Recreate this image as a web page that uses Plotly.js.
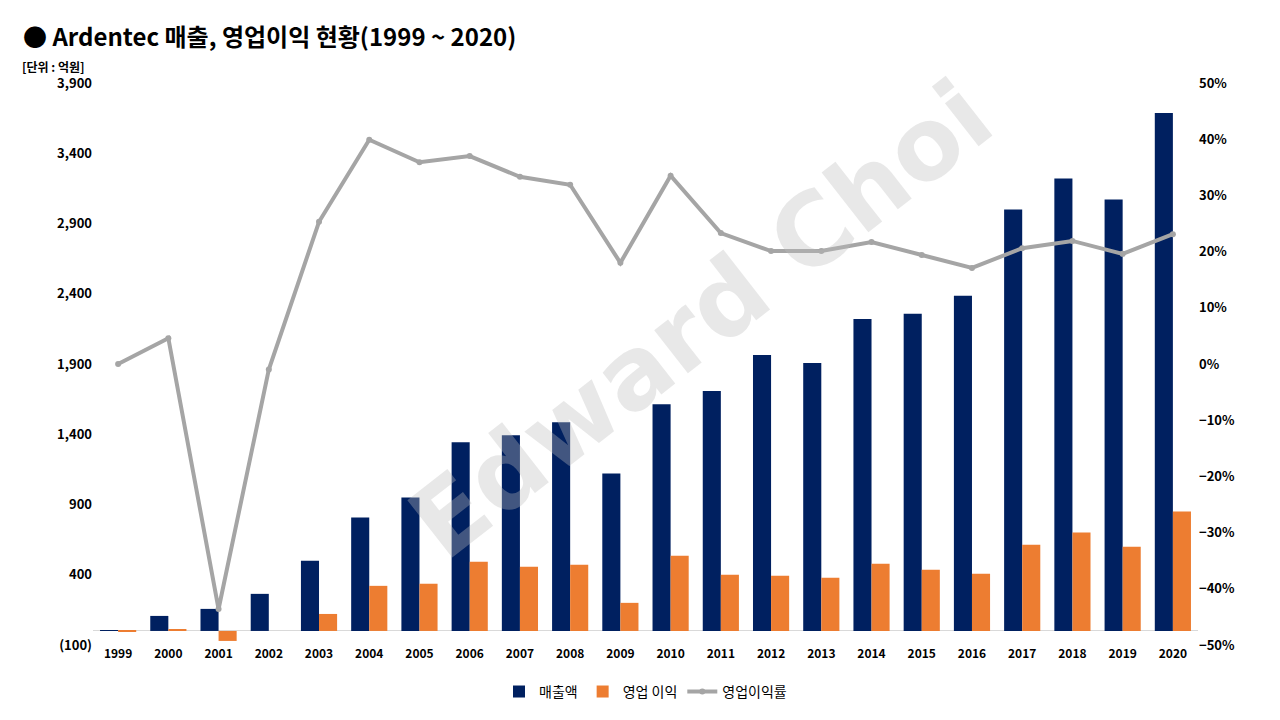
<!DOCTYPE html>
<html>
<head>
<meta charset="utf-8">
<script src="https://cdn.plot.ly/plotly-3.0.1.min.js"></script>
<style>body{margin:0;background:#fff}#chart{width:1280px;height:720px}</style>
</head>
<body>
<div id="chart"></div>
<script>
var years = ['1999','2000','2001','2002','2003','2004','2005','2006','2007','2008','2009','2010','2011','2012','2013','2014','2015','2016','2017','2018','2019','2020'];
var revenue = [5, 107, 157, 264, 500, 807, 950, 1343, 1393, 1486, 1121, 1614, 1707, 1964, 1907, 2221, 2257, 2386, 3000, 3221, 3071, 3686];
var opProfit = [-5, 7, -71, 0, 121, 321, 336, 493, 457, 471, 200, 536, 400, 393, 379, 479, 436, 407, 614, 700, 600, 850];
var opMargin = [0, 0.046, -0.436, -0.01, 0.253, 0.399, 0.359, 0.37, 0.333, 0.319, 0.18, 0.335, 0.233, 0.201, 0.201, 0.217, 0.194, 0.171, 0.206, 0.219, 0.196, 0.231];
var leftTicks = [-100, 400, 900, 1400, 1900, 2400, 2900, 3400, 3900];
var leftLabels = ['(100)', '400', '900', '1,400', '1,900', '2,400', '2,900', '3,400', '3,900'];

var font = {family: 'Noto Sans CJK KR, Noto Sans, sans-serif', color: '#000'};

var data = [
  {type: 'bar', x: years, y: revenue, name: '매출액', marker: {color: '#002060'}},
  {type: 'bar', x: years, y: opProfit, name: '영업 이익', marker: {color: '#ED7D31'}},
  {type: 'scatter', mode: 'lines+markers', x: years, y: opMargin, name: '영업이익률', yaxis: 'y2',
   line: {color: '#A5A5A5', width: 4}, marker: {color: '#A5A5A5', size: 6}}
];

var layout = {
  width: 1280, height: 720,
  margin: {l: 93, r: 82, t: 83, b: 75},
  paper_bgcolor: '#fff', plot_bgcolor: '#fff',
  font: font,
  title: {text: '<b>● Ardentec 매출, 영업이익 현황(1999 ~ 2020)</b>', x: 0.018, xanchor: 'left', y: 0.96,
          font: {family: font.family, size: 24, color: '#000'}},
  barmode: 'group', bargap: 0.28, bargroupgap: 0,
  xaxis: {type: 'category', range: [-0.5, 21.5], showgrid: false, showline: false, ticks: '', automargin: false,
          tickfont: {size: 12, color: '#000', weight: 'bold'}},
  yaxis: {range: [-100, 3900], tickvals: leftTicks, ticktext: leftLabels, showgrid: false, automargin: false,
          zeroline: true, zerolinecolor: '#D9D9D9', zerolinewidth: 1, ticks: '', ticklen: 0,
          tickfont: {size: 13, color: '#000', weight: 'bold'}},
  yaxis2: {overlaying: 'y', side: 'right', range: [-0.5, 0.5], dtick: 0.1, tickformat: '.0%', automargin: false,
           showgrid: false, zeroline: false, tickfont: {size: 13, color: '#000', weight: 'bold'}},
  legend: {orientation: 'h', x: 0.5, xanchor: 'center', y: -0.055, yanchor: 'top',
           font: {size: 14, color: '#000'}},
  annotations: [
    {text: '<b>[단위 : 억원]</b>', xref: 'paper', yref: 'paper', x: -0.066, y: 1.03, xanchor: 'left', yanchor: 'middle',
     showarrow: false, font: {size: 12, color: '#000'}},
    {text: '<b>Edward Choi</b>', xref: 'paper', yref: 'paper', x: 0.55, y: 0.58, showarrow: false, textangle: -38,
     font: {family: 'DejaVu Sans, sans-serif', size: 100, color: 'rgba(190,190,190,0.35)'}}
  ]
};

Plotly.newPlot('chart', data, layout, {displayModeBar: false});
</script>
</body>
</html>
